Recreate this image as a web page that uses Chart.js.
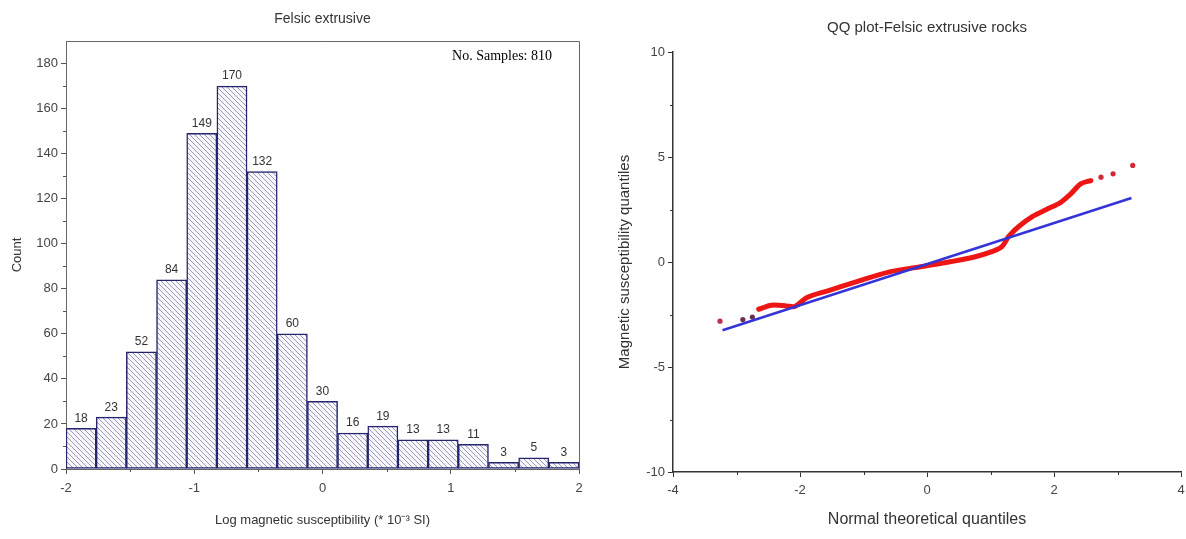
<!DOCTYPE html>
<html>
<head>
<meta charset="utf-8">
<script src="https://cdn.jsdelivr.net/npm/chart.js@4.4.1/dist/chart.umd.min.js"></script>
<style>
  body { margin: 0; background: #fff; }
  #histChart { position: absolute; left: 0; top: 0; }
  #qqChart { position: absolute; left: 600px; top: 0; }
</style>
</head>
<body>
<canvas id="histChart" width="600" height="539"></canvas>
<canvas id="qqChart" width="586" height="539"></canvas>
<script>
// ---- histogram data (17 bins between -2 and 2) ----
const binCenters = ["-1.88", "-1.65", "-1.41", "-1.18", "-0.94", "-0.71", "-0.47", "-0.24", "0.00",
                    "0.24", "0.47", "0.71", "0.94", "1.18", "1.41", "1.65", "1.88"];
const binCounts = [18, 23, 52, 84, 149, 170, 132, 60, 30, 16, 19, 13, 13, 11, 3, 5, 3];
const sampleCount = 810;

// ---- QQ plot data ----
// dense middle part of the sample quantiles
const qqBodyX = [-2.65, -2.45, -2.21, -2.08, -1.89, -1.56, -1.13, -0.59, -0.05, 0.38, 0.76,
                 1.02, 1.18, 1.29, 1.45, 1.67, 1.88, 2.10, 2.26, 2.42, 2.58];
const qqBodyY = [-2.25, -2.06, -2.09, -2.12, -1.69, -1.37, -0.96, -0.47, -0.20, 0.02, 0.25,
                 0.49, 0.73, 1.23, 1.70, 2.18, 2.50, 2.83, 3.23, 3.72, 3.88];
// isolated tail points
const qqTailX = [-3.26, -2.90, -2.75, 2.74, 2.93, 3.24];
const qqTailY = [-2.82, -2.74, -2.62, 4.04, 4.20, 4.60];
// reference line end points
const refLineX = [-3.22, 3.22];
const refLineY = [-3.25, 3.05];

const FONT = "'Liberation Sans', Arial, sans-serif";

const toPoints = (xs, ys) => xs.map((x, i) => ({ x: x, y: ys[i] }));

function hatchPattern(ctx) {
  const s = 5;
  const c = document.createElement("canvas");
  c.width = s; c.height = s;
  const g = c.getContext("2d");
  g.fillStyle = "#f6f6fc";
  g.fillRect(0, 0, s, s);
  g.strokeStyle = "#9a9ab4";
  g.lineWidth = 1;
  g.beginPath();
  for (let k = -1; k <= 1; k++) {
    g.moveTo(-1, -1 + k * s);
    g.lineTo(s + 1, s + 1 + k * s);
  }
  g.stroke();
  return ctx.createPattern(c, "repeat");
}

// title centered over the plot area
const plotTitle = {
  id: "plotTitle",
  afterDraw(chart, args, opts) {
    const { ctx, chartArea } = chart;
    ctx.save();
    ctx.font = opts.font;
    ctx.fillStyle = "#333";
    ctx.textAlign = "center";
    ctx.textBaseline = "middle";
    ctx.fillText(opts.text, (chartArea.left + chartArea.right) / 2, opts.y);
    ctx.restore();
  }
};

// small ticks between the labelled ones
const minorTicks = {
  id: "minorTicks",
  afterDraw(chart, args, opts) {
    const ctx = chart.ctx;
    ctx.save();
    ctx.strokeStyle = opts.color;
    ctx.lineWidth = 1;
    ctx.beginPath();
    opts.axes.forEach((a) => {
      const s = chart.scales[a.id];
      for (let v = a.from; v < s.max; v += a.step) {
        const p = Math.round(s.getPixelForValue(v)) + 0.5;
        if (s.isHorizontal()) {
          ctx.moveTo(p, s.top);
          ctx.lineTo(p, s.top + 3);
        } else {
          ctx.moveTo(s.right, p);
          ctx.lineTo(s.right - 3, p);
        }
      }
    });
    ctx.stroke();
    ctx.restore();
  }
};

const histExtras = {
  id: "histExtras",
  afterDatasetsDraw(chart) {
    const { ctx, chartArea } = chart;
    ctx.save();
    // frame top + right
    ctx.strokeStyle = "#666";
    ctx.lineWidth = 1;
    ctx.beginPath();
    ctx.moveTo(chartArea.left, chartArea.top + 0.5);
    ctx.lineTo(chartArea.right + 0.5, chartArea.top + 0.5);
    ctx.lineTo(chartArea.right + 0.5, chartArea.bottom);
    ctx.stroke();
    // count labels
    ctx.font = "12px " + FONT;
    ctx.fillStyle = "#333";
    ctx.textAlign = "center";
    ctx.textBaseline = "bottom";
    chart.getDatasetMeta(0).data.forEach((bar, i) => {
      ctx.fillText(binCounts[i], bar.x, bar.y - 4);
    });
    // sample count note
    ctx.font = "14px 'Liberation Serif', 'Times New Roman', serif";
    ctx.fillStyle = "#000";
    ctx.textAlign = "right";
    ctx.textBaseline = "middle";
    ctx.fillText("No. Samples: " + sampleCount, chartArea.right - 27, chartArea.top + 15);
    ctx.restore();
  }
};

const tickFont = { family: FONT, size: 13 };

const histCtx = document.getElementById("histChart").getContext("2d");
new Chart(histCtx, {
  type: "bar",
  data: {
    labels: binCenters,
    datasets: [{
      data: binCounts,
      backgroundColor: hatchPattern(histCtx),
      borderColor: "#25256e",
      borderWidth: 1.5,
      borderSkipped: false,
      barPercentage: 1,
      categoryPercentage: 1
    }]
  },
  options: {
    responsive: false,
    animation: false,
    devicePixelRatio: 1,
    layout: { padding: { top: 41, right: 21, left: 0, bottom: 0 } },
    plugins: {
      legend: { display: false },
      tooltip: { enabled: false },
      plotTitle: { text: "Felsic extrusive", y: 19, font: "14px " + FONT },
      minorTicks: {
        color: "#555",
        axes: [{ id: "y", from: 10, step: 20 }, { id: "x2", from: -1.5, step: 1 }]
      }
    },
    scales: {
      x: { display: false },
      x2: {
        type: "linear",
        position: "bottom",
        min: -2,
        max: 2,
        offset: false,
        ticks: { stepSize: 1, color: "#444", font: tickFont, padding: 7 },
        grid: { drawOnChartArea: false, offset: false, tickLength: 5, color: "#555" },
        border: { color: "#666" },
        title: {
          display: true,
          text: "Log magnetic susceptibility (* 10⁻³ SI)",
          color: "#333",
          font: { family: FONT, size: 13 },
          padding: { top: 11, bottom: 11 }
        },
        afterFit(s) { s.height = 70; s.paddingLeft = 0; s.paddingRight = 0; }
      },
      y: {
        min: 0,
        max: 190,
        ticks: { stepSize: 20, color: "#444", font: tickFont, padding: 3 },
        afterBuildTicks(s) { s.ticks = s.ticks.filter((t) => t.value <= 180); },
        grid: { drawOnChartArea: false, tickLength: 5, color: "#555" },
        border: { color: "#666" },
        title: {
          display: true,
          text: "Count",
          color: "#333",
          font: { family: FONT, size: 13 },
          padding: { top: 10, bottom: 10 }
        },
        afterFit(s) { s.width = 66; }
      }
    }
  },
  plugins: [plotTitle, minorTicks, histExtras]
});

new Chart(document.getElementById("qqChart"), {
  type: "scatter",
  data: {
    datasets: [
      {
        data: toPoints(refLineX, refLineY),
        showLine: true,
        borderColor: "#3434d8",
        borderWidth: 2.5,
        pointRadius: 0,
        order: 0
      },
      {
        data: toPoints(qqBodyX, qqBodyY),
        showLine: true,
        borderColor: "#ee1515",
        borderWidth: 5,
        borderCapStyle: "round",
        borderJoinStyle: "round",
        tension: 0.3,
        pointRadius: 0,
        order: 1
      },
      {
        data: toPoints(qqTailX, qqTailY),
        pointRadius: 2.6,
        borderWidth: 0,
        backgroundColor: ["#c0304c", "#6a3050", "#6a3050", "#d02a3a", "#d02a3a", "#d02a3a"],
        order: 1
      }
    ]
  },
  options: {
    responsive: false,
    animation: false,
    devicePixelRatio: 1,
    layout: { padding: { top: 52, right: 5, left: 0, bottom: 0 } },
    plugins: {
      legend: { display: false },
      tooltip: { enabled: false },
      plotTitle: { text: "QQ plot-Felsic extrusive rocks", y: 28, font: "15px " + FONT },
      minorTicks: {
        color: "#333",
        axes: [{ id: "y", from: -7.5, step: 5 }, { id: "x", from: -3, step: 2 }]
      }
    },
    scales: {
      x: {
        type: "linear",
        min: -4,
        max: 4,
        ticks: { stepSize: 2, color: "#444", font: tickFont, padding: 6 },
        grid: { drawOnChartArea: false, tickLength: 5, color: "#333" },
        border: { color: "#333", width: 1.5 },
        title: {
          display: true,
          text: "Normal theoretical quantiles",
          color: "#333",
          font: { family: FONT, size: 16 },
          padding: { top: 10, bottom: 10 }
        },
        afterFit(s) { s.height = 67; s.paddingLeft = 0; s.paddingRight = 0; }
      },
      y: {
        min: -10,
        max: 10,
        ticks: { stepSize: 5, color: "#444", font: tickFont, padding: 3 },
        grid: { drawOnChartArea: false, tickLength: 5, color: "#333" },
        border: { color: "#333", width: 1.5 },
        title: {
          display: true,
          text: "Magnetic susceptibility quantiles",
          color: "#333",
          font: { family: FONT, size: 15 },
          padding: { top: 16, bottom: 16 }
        },
        afterFit(s) { s.width = 73; }
      }
    }
  },
  plugins: [plotTitle, minorTicks]
});
</script>
</body>
</html>
